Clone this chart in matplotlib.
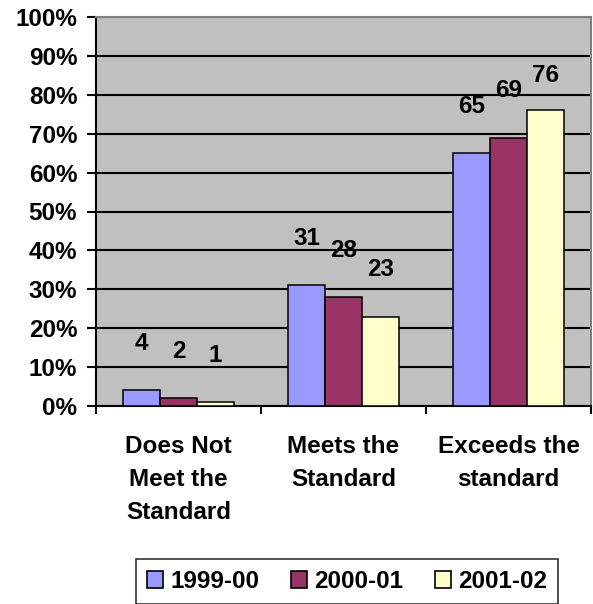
import matplotlib
matplotlib.use("Agg")
import matplotlib.pyplot as plt
import numpy as np
from matplotlib.ticker import FixedLocator, FuncFormatter

plt.rcParams['font.family'] = ['Liberation Sans', 'DejaVu Sans']
plt.rcParams['font.weight'] = 'bold'

categories = ["Does Not\nMeet the\nStandard", "Meets the\nStandard", "Exceeds the\nstandard"]
series_names = ["1999-00", "2000-01", "2001-02"]
values_1999 = [4, 31, 65]
values_2000 = [2, 28, 69]
values_2001 = [1, 23, 76]
series_values = [values_1999, values_2000, values_2001]
colors = ["#9999FF", "#993366", "#FFFFCC"]
yticks = [0, 10, 20, 30, 40, 50, 60, 70, 80, 90, 100]

W, H = 593, 604
fig = plt.figure(figsize=(W / 100, H / 100), dpi=100)
ax = fig.add_axes([96 / W, 1 - 406 / H, (591 - 96) / W, (406 - 17) / H])
ax.set_facecolor("#C0C0C0")

FS = 17.5
x = np.arange(1, len(categories) + 1)
bw = 0.224
for i, (name, vals, c) in enumerate(zip(series_names, series_values, colors)):
    xs = x + (i - 1) * bw
    ax.bar(xs, vals, width=bw, color=c, edgecolor="black", linewidth=1.1,
           label=name, zorder=3)
    for xi, v in zip(xs, vals):
        ax.text(xi, min(v + 12, 85), f"{v}", ha="center", va="center",
                fontsize=FS, fontweight="bold", zorder=4)

ax.set_xlim(0.5, 3.5)
ax.set_ylim(0, 100)
ax.set_yticks(yticks)
ax.yaxis.set_major_formatter(FuncFormatter(lambda v, p: f"{int(v)}%"))
ax.yaxis.grid(True, color="black", linewidth=1.5, zorder=1)
ax.set_axisbelow(True)
ax.tick_params(axis="y", direction="out", length=6.5, width=1.5, pad=7,
               labelsize=FS, colors="black")
ax.set_xticks(x)
ax.set_xticklabels(categories, fontsize=FS, fontweight="bold", linespacing=1.55)
ax.tick_params(axis="x", which="major", length=0, pad=21)
ax.xaxis.set_minor_locator(FixedLocator([0.5, 1.5, 2.5, 3.5]))
ax.tick_params(axis="x", which="minor", direction="out", length=6, width=1.5)
for lab in ax.get_yticklabels():
    lab.set_fontweight("bold")

ax.spines["left"].set_color("black")
ax.spines["left"].set_linewidth(1.5)
ax.spines["bottom"].set_color("black")
ax.spines["bottom"].set_linewidth(1.5)
ax.spines["top"].set_color("#808080")
ax.spines["top"].set_linewidth(1.5)
ax.spines["right"].set_color("#808080")
ax.spines["right"].set_linewidth(1.5)

leg = fig.legend(loc="upper left", bbox_to_anchor=(136 / W, 1 - 559 / H),
                 ncol=3, frameon=True, fancybox=False, shadow=False,
                 prop={"weight": "bold", "size": FS},
                 handlelength=0.66, handleheight=0.66, handletextpad=0.3,
                 columnspacing=1.3, borderpad=0.45, borderaxespad=0)
leg.get_frame().set_edgecolor("black")
leg.get_frame().set_linewidth(1.2)
leg.get_frame().set_facecolor("white")
for h in leg.legend_handles:
    h.set_edgecolor("black")
    h.set_linewidth(1.2)

fig.savefig("out.png", dpi=100)
